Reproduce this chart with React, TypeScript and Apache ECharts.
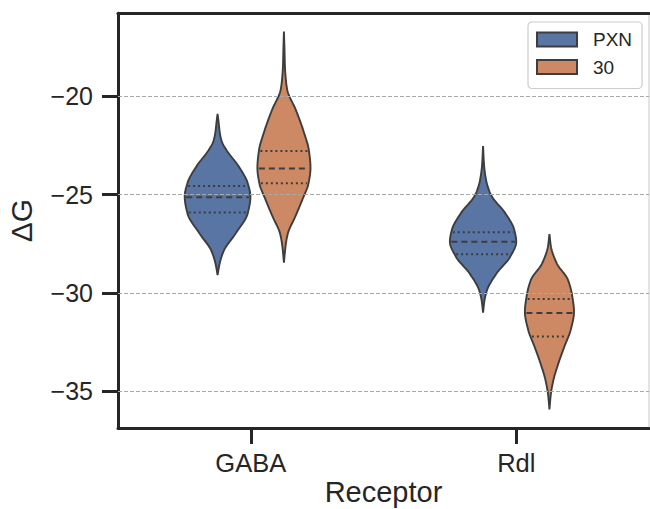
import React, { useEffect, useRef } from 'react';
import * as echarts from 'echarts';

const categories = ['GABA', 'Rdl'];
const hues = ['PXN', '30'];
const hueColors = ['#5875a4', '#cc8963'];
const yTicks = [-35, -30, -25, -20];

// density profiles (y value, relative density)
const gabaPxnY = [-20.9, -21.3, -21.88, -22.31, -22.74, -23.58, -24.43, -25.1, -25.95, -26.97, -27.82, -28.33, -28.7, -29.1];
const gabaPxnDensity = [0, 0.03, 0.07, 0.13, 0.27, 0.64, 0.91, 0.99, 0.91, 0.55, 0.2, 0.09, 0.04, 0];
const gabaPxnQuartiles = [-24.57, -25.14, -25.92];

const gaba30Y = [-16.71, -17.5, -18.5, -19.2, -19.68, -20.7, -21.88, -22.73, -23.65, -24.43, -25.28, -26.13, -26.97, -27.48, -28.0, -28.47];
const gaba30Density = [0, 0.015, 0.03, 0.06, 0.1, 0.36, 0.61, 0.75, 0.8, 0.74, 0.55, 0.34, 0.12, 0.06, 0.025, 0];
const gaba30Quartiles = [-22.78, -23.68, -24.43];

const rdlPxnY = [-22.53, -23.5, -24.26, -24.7, -25.11, -25.95, -26.8, -27.4, -28.16, -29.01, -29.86, -30.37, -31.01];
const rdlPxnDensity = [0, 0.03, 0.09, 0.16, 0.27, 0.67, 0.94, 1.0, 0.82, 0.41, 0.12, 0.045, 0];
const rdlPxnQuartiles = [-26.92, -27.4, -28.04];

const rdl30Y = [-27.01, -27.65, -28.5, -29.35, -30.2, -30.96, -31.89, -32.74, -33.59, -34.44, -35.12, -35.93];
const rdl30Density = [0, 0.045, 0.22, 0.56, 0.69, 0.74, 0.64, 0.45, 0.27, 0.12, 0.045, 0];
const rdl30Quartiles = [-30.32, -31.03, -32.23];

const violins = [
  [
    { y: gabaPxnY, d: gabaPxnDensity, q: gabaPxnQuartiles },
    { y: gaba30Y, d: gaba30Density, q: gaba30Quartiles },
  ],
  [
    { y: rdlPxnY, d: rdlPxnDensity, q: rdlPxnQuartiles },
    { y: rdl30Y, d: rdl30Density, q: rdl30Quartiles },
  ],
];

// monotone cubic interpolation for drawing a smooth outline
function makeInterp(ysDesc: number[], dsDesc: number[]) {
  const xs = ysDesc.slice().reverse();
  const ys = dsDesc.slice().reverse();
  const n = xs.length;
  const dx: number[] = [];
  const m: number[] = [];
  for (let i = 0; i < n - 1; i++) {
    dx.push(xs[i + 1] - xs[i]);
    m.push((ys[i + 1] - ys[i]) / (xs[i + 1] - xs[i]));
  }
  const t: number[] = new Array(n).fill(0);
  t[0] = m[0];
  t[n - 1] = m[n - 2];
  for (let i = 1; i < n - 1; i++) {
    if (m[i - 1] * m[i] <= 0) t[i] = 0;
    else {
      const w1 = 2 * dx[i] + dx[i - 1];
      const w2 = dx[i] + 2 * dx[i - 1];
      t[i] = (w1 + w2) / (w1 / m[i - 1] + w2 / m[i]);
    }
  }
  return (x: number) => {
    if (x <= xs[0]) return ys[0];
    if (x >= xs[n - 1]) return ys[n - 1];
    let i = 0;
    while (i < n - 2 && x > xs[i + 1]) i++;
    const h = dx[i];
    const s = (x - xs[i]) / h;
    const s2 = s * s;
    const s3 = s2 * s;
    const v =
      (2 * s3 - 3 * s2 + 1) * ys[i] +
      (s3 - 2 * s2 + s) * h * t[i] +
      (-2 * s3 + 3 * s2) * ys[i + 1] +
      (s3 - s2) * h * t[i + 1];
    return Math.max(0, v);
  };
}

const font = 'Liberation Sans, Arial, Helvetica, sans-serif';
const ink = '#262626';
const edge = '#3d3d3d';

export default function App() {
  const ref = useRef<HTMLDivElement>(null);
  useEffect(() => {
    if (!ref.current) return;
    const chart = echarts.init(ref.current, undefined, { renderer: 'svg' });

    const renderItem = (params: any, api: any) => {
      const cat = api.value(0);
      const hueIdx = hues.indexOf(params.seriesName);
      const v = violins[cat][hueIdx];
      const interp = makeInterp(v.y, v.d);
      const band = api.size([1, 0])[0];
      const maxHalf = band * 0.125;
      const cx = api.coord([cat, v.q[1]])[0] + (hueIdx === 0 ? -1 : 1) * maxHalf;
      const top = v.y[0];
      const bot = v.y[v.y.length - 1];
      const N = 160;
      const right: number[][] = [];
      const left: number[][] = [];
      for (let k = 0; k <= N; k++) {
        const yy = top + (bot - top) * (k / N);
        const d = interp(yy);
        const py = api.coord([cat, yy])[1];
        right.push([cx + d * maxHalf, py]);
        left.push([cx - d * maxHalf, py]);
      }
      const pts = right.concat(left.reverse());
      const children: any[] = [
        {
          type: 'polygon',
          shape: { points: pts },
          style: { fill: hueColors[hueIdx], stroke: edge, lineWidth: 1.9 },
        },
      ];
      v.q.forEach((qv: number, qi: number) => {
        const d = interp(qv);
        const py = api.coord([cat, qv])[1];
        children.push({
          type: 'line',
          shape: { x1: cx - d * maxHalf + 1.5, y1: py, x2: cx + d * maxHalf - 1.5, y2: py },
          style: {
            stroke: edge,
            lineWidth: 2,
            lineDash: qi === 1 ? [6, 4] : [2, 3],
          },
        });
      });
      return { type: 'group', children };
    };

    const option: any = {
      animation: false,
      backgroundColor: '#ffffff',
      textStyle: { fontFamily: font },
      grid: {
        left: 118,
        right: 1,
        top: 13.3,
        bottom: 81,
        outerBoundsMode: 'none',
        containLabel: false,
        show: true,
        borderColor: '#c8c8c8',
        borderWidth: 1,
      },
      legend: {
        left: 528,
        top: 22,
        orient: 'vertical',
        data: hues.map((h) => ({ name: h, icon: 'rect' })),
        itemWidth: 40,
        itemHeight: 14,
        itemGap: 8.5,
        padding: [8, 10, 12, 8],
        backgroundColor: '#ffffff',
        borderColor: '#cccccc',
        borderWidth: 1.2,
        borderRadius: 4,
        textStyle: { fontFamily: font, fontSize: 19, color: ink, lineHeight: 19, padding: [0, 0, 0, 11] },
      },
      xAxis: [
        {
          type: 'category',
          data: categories,
          boundaryGap: true,
          name: 'Receptor',
          nameLocation: 'middle',
          nameGap: 64,
          nameMoveOverlap: false,
          nameTextStyle: { fontFamily: font, fontSize: 29, lineHeight: 29, color: ink, verticalAlign: 'middle' },
          axisLine: { show: true, onZero: false, lineStyle: { color: ink, width: 3 } },
          axisTick: { show: true, alignWithLabel: true, length: 16, lineStyle: { color: ink, width: 3 } },
          axisLabel: { margin: 22, fontFamily: font, fontSize: 25.5, color: ink },
          splitLine: { show: false },
        },
        {
          type: 'category',
          data: categories,
          position: 'top',
          axisLine: { show: true, onZero: false, lineStyle: { color: ink, width: 3 } },
          axisTick: { show: false },
          axisLabel: { show: false },
          splitLine: { show: false },
        },
      ],
      yAxis: {
        type: 'value',
        min: -36.88,
        max: -15.78,
        name: 'ΔG',
        nameLocation: 'middle',
        nameGap: 82,
        nameTextStyle: { fontFamily: font, fontSize: 30, color: ink },
        axisLine: { show: true, onZero: false, lineStyle: { color: ink, width: 3 } },
        axisTick: { show: true, length: 16, customValues: yTicks, lineStyle: { color: ink, width: 3 } },
        axisLabel: {
          margin: 25,
          fontFamily: font,
          fontSize: 25,
          color: ink,
          customValues: yTicks,
          formatter: (val: number) => String(val).replace('-', '\u2212'),
        },
        splitLine: { show: false },
      },
      series: [
        {
          type: 'line',
          data: [],
          z: 1,
          silent: true,
          markLine: {
            silent: true,
            symbol: 'none',
            label: { show: false },
            lineStyle: { color: '#a8a8a8', type: [4, 2], width: 1 },
            data: yTicks.map((t) => ({ yAxis: t })),
          },
        },
        ...hues.map((h, hi) => ({
          type: 'custom',
          name: h,
          z: 3,
          itemStyle: { color: hueColors[hi], borderColor: edge, borderWidth: 1 },
          renderItem,
          encode: { x: 0, y: 1 },
          data: categories.map((_, ci) => [ci, violins[ci][hi].q[1]]),
        })),
      ],
    };
    chart.setOption(option);
    return () => chart.dispose();
  }, []);
  return <div ref={ref} style={{ position: 'absolute', left: 0, top: 0, width: 650, height: 509 }} />;
}
